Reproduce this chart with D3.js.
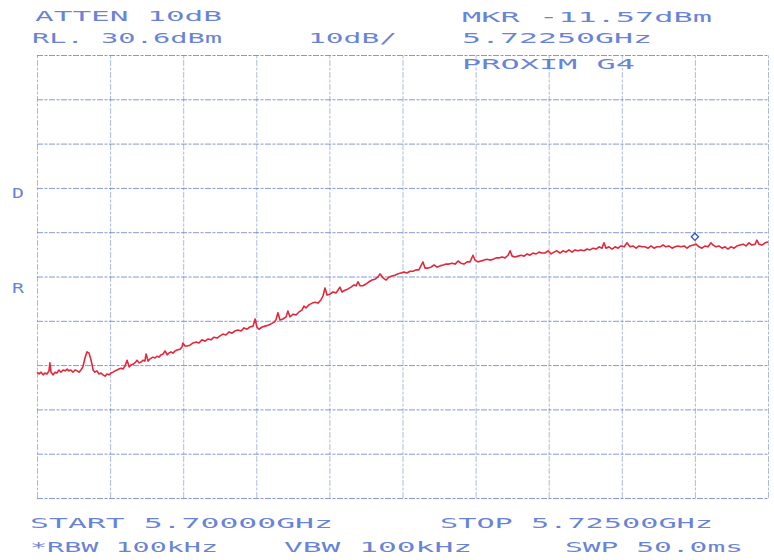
<!DOCTYPE html>
<html>
<head>
<meta charset="utf-8">
<script src="https://cdn.jsdelivr.net/npm/d3@7"></script>
<style>
  html, body { margin: 0; padding: 0; background: #ffffff; }
  svg { display: block; }
</style>
</head>
<body>
<div id="chart"></div>
<script>
// ---------------- data ----------------
const startMHz = 5700.0;
const stopMHz = 5725.0;
const refLevelDbm = 30.6;
const dbPerDiv = 10;
const numDivs = 10;

// grid (major division) values
const gridFreqsMHz = [5700, 5702.5, 5705, 5707.5, 5710, 5712.5, 5715, 5717.5, 5720, 5722.5, 5725];
const gridLevelsDbm = [30.6, 20.6, 10.6, 0.6, -9.4, -19.4, -29.4, -39.4, -49.4, -59.4, -69.4];

// marker
const markerFreqMHz = 5722.5;
const markerLevelDbm = -11.57;

// trace: frequency (MHz) and level (dBm)
const traceFreqMHz = [
5700.00,5700.07,5700.14,5700.21,5700.27,5700.34,5700.41,5700.44,5700.48,5700.55,
5700.62,5700.68,5700.75,5700.82,5700.89,5700.96,5701.03,5701.09,5701.16,5701.23,
5701.30,5701.37,5701.44,5701.50,5701.57,5701.64,5701.71,5701.78,5701.85,5701.92,
5701.98,5702.05,5702.12,5702.19,5702.26,5702.33,5702.39,5702.46,5702.53,5702.60,
5702.67,5702.74,5702.80,5702.87,5702.94,5703.01,5703.08,5703.15,5703.21,5703.28,
5703.35,5703.42,5703.49,5703.56,5703.63,5703.69,5703.73,5703.80,5703.86,5703.97,
5704.04,5704.10,5704.17,5704.24,5704.31,5704.38,5704.45,5704.51,5704.58,5704.65,
5704.72,5704.79,5704.89,5704.96,5704.99,5705.06,5705.13,5705.23,5705.34,5705.44,
5705.54,5705.64,5705.75,5705.85,5705.95,5706.05,5706.16,5706.26,5706.36,5706.46,
5706.57,5706.67,5706.77,5706.87,5706.98,5707.08,5707.18,5707.28,5707.39,5707.46,
5707.52,5707.59,5707.70,5707.80,5707.90,5708.00,5708.11,5708.17,5708.24,5708.31,
5708.41,5708.52,5708.58,5708.65,5708.76,5708.86,5708.96,5709.06,5709.13,5709.20,
5709.30,5709.41,5709.51,5709.61,5709.71,5709.78,5709.85,5709.92,5710.02,5710.12,
5710.23,5710.29,5710.36,5710.43,5710.53,5710.64,5710.74,5710.84,5710.91,5710.98,
5711.05,5711.15,5711.25,5711.35,5711.46,5711.56,5711.66,5711.73,5711.83,5711.94,
5712.04,5712.14,5712.24,5712.35,5712.45,5712.55,5712.65,5712.76,5712.86,5712.96,
5713.06,5713.13,5713.20,5713.27,5713.37,5713.47,5713.58,5713.68,5713.78,5713.89,
5713.99,5714.09,5714.19,5714.30,5714.40,5714.50,5714.60,5714.71,5714.81,5714.91,
5714.98,5715.08,5715.18,5715.29,5715.39,5715.49,5715.60,5715.70,5715.80,5715.90,
5716.01,5716.11,5716.18,5716.25,5716.35,5716.45,5716.55,5716.66,5716.76,5716.86,
5716.96,5717.07,5717.17,5717.27,5717.37,5717.48,5717.58,5717.68,5717.78,5717.89,
5717.99,5718.09,5718.19,5718.30,5718.40,5718.50,5718.60,5718.71,5718.81,5718.91,
5719.02,5719.12,5719.22,5719.32,5719.39,5719.46,5719.56,5719.67,5719.77,5719.87,
5719.97,5720.08,5720.18,5720.28,5720.38,5720.49,5720.59,5720.69,5720.79,5720.90,
5721.00,5721.10,5721.20,5721.31,5721.41,5721.51,5721.61,5721.72,5721.82,5721.92,
5722.02,5722.13,5722.23,5722.33,5722.44,5722.54,5722.64,5722.74,5722.85,5722.95,
5723.05,5723.12,5723.22,5723.32,5723.43,5723.53,5723.63,5723.73,5723.84,5723.94,
5724.04,5724.15,5724.25,5724.35,5724.45,5724.56,5724.62,5724.69,5724.80,5724.90,
5725.00
];
const traceLevelDbm = [
-41.0,-41.4,-41.0,-41.6,-41.2,-41.4,-40.7,-38.9,-41.0,-41.6,
-41.0,-41.2,-40.5,-41.0,-40.5,-40.7,-40.3,-40.7,-40.5,-41.0,
-40.5,-40.7,-41.0,-40.5,-39.8,-37.8,-36.4,-36.7,-38.3,-40.5,
-41.0,-40.7,-41.4,-41.2,-41.6,-41.9,-41.4,-41.6,-41.2,-41.0,
-40.7,-40.5,-40.3,-40.1,-40.3,-39.6,-38.3,-39.8,-39.4,-39.2,
-38.9,-38.3,-38.9,-38.7,-38.3,-38.5,-36.9,-38.5,-38.0,-37.6,
-37.8,-37.4,-37.6,-37.1,-36.9,-36.2,-37.1,-36.7,-36.4,-36.7,
-36.2,-36.0,-35.8,-35.3,-34.4,-35.1,-35.1,-34.9,-34.4,-34.2,
-34.4,-33.7,-34.0,-33.5,-33.7,-33.1,-33.3,-32.8,-32.4,-32.6,
-31.9,-32.2,-31.7,-31.5,-31.7,-31.0,-31.3,-30.8,-30.6,-29.0,
-30.8,-31.3,-30.8,-30.6,-30.4,-30.1,-29.7,-29.2,-27.6,-29.2,
-29.0,-28.5,-27.2,-28.5,-27.9,-28.1,-27.4,-27.0,-26.1,-26.5,
-25.8,-25.4,-25.2,-25.4,-24.7,-23.8,-22.0,-23.6,-23.4,-22.9,
-23.1,-22.5,-21.8,-22.9,-22.5,-22.2,-21.8,-21.3,-21.5,-20.6,
-21.5,-21.5,-21.1,-20.6,-20.2,-20.0,-19.5,-18.8,-19.7,-20.2,
-19.5,-19.3,-19.1,-18.8,-18.6,-18.4,-18.6,-18.2,-18.2,-17.9,
-17.9,-17.0,-16.1,-17.5,-17.5,-17.3,-16.8,-17.3,-17.0,-16.8,
-16.6,-16.6,-16.4,-16.6,-15.9,-16.4,-16.6,-16.1,-16.1,-14.6,
-15.7,-16.1,-15.9,-15.7,-15.5,-15.7,-15.5,-15.2,-15.2,-15.0,
-15.2,-14.6,-13.6,-14.8,-15.0,-14.8,-14.6,-14.8,-14.3,-14.6,
-14.1,-14.3,-13.9,-14.1,-14.1,-13.6,-14.3,-13.9,-13.6,-14.1,
-13.6,-13.9,-13.4,-13.9,-13.4,-13.6,-13.4,-13.6,-13.2,-13.4,
-13.0,-13.2,-12.7,-13.0,-11.8,-13.0,-12.7,-13.2,-12.7,-13.0,
-12.5,-12.7,-11.8,-12.7,-12.5,-13.0,-12.5,-12.7,-12.7,-13.0,
-12.5,-13.0,-12.7,-12.7,-12.3,-12.7,-12.5,-13.0,-12.7,-12.5,
-12.7,-12.5,-13.0,-12.5,-12.3,-12.1,-12.7,-13.0,-12.5,-12.7,
-11.8,-12.3,-12.7,-12.5,-13.0,-12.7,-13.2,-12.7,-13.0,-12.5,
-12.3,-12.1,-12.5,-11.8,-12.3,-12.1,-11.2,-12.1,-12.3,-11.8,
-11.6
];

// annotation texts
const attenText = "ATTEN 10dB";
const refText = "RL. 30.6dBm";
const scaleText = "10dB/";
const markerText = "MKR -11.57dBm";
const markerFreqText = "5.72250GHz";
const titleText = "PROXIM G4";
const startText = "START 5.70000GHz";
const stopText = "STOP 5.72500GHz";
const rbwText = "*RBW 100kHz";
const vbwText = "VBW 100kHz";
const swpText = "SWP 50.0ms";
const sideTexts = ["D", "R"];

// ---------------- drawing ----------------
const W = 774, H = 560;
const plot = { left: 37, right: 768, top: 55, bottom: 498 };
const textBlue = "#4d6dd0";
const gridBlue = "#5a78c8";
const red = "#e2283a";

const svg = d3.select("#chart").append("svg")
  .attr("width", W).attr("height", H)
  .style("background", "#ffffff");

const x = d3.scaleLinear().domain([startMHz, stopMHz]).range([plot.left, plot.right]);
const y = d3.scaleLinear()
  .domain([refLevelDbm - dbPerDiv * numDivs, refLevelDbm])
  .range([plot.bottom, plot.top]);

// grid using axes
const gGridX = svg.append("g")
  .attr("transform", `translate(0,${plot.bottom})`)
  .call(d3.axisBottom(x).tickValues(gridFreqsMHz)
    .tickSize(-(plot.bottom - plot.top)).tickFormat(""));
const gGridY = svg.append("g")
  .attr("transform", `translate(${plot.left},0)`)
  .call(d3.axisLeft(y).tickValues(gridLevelsDbm)
    .tickSize(-(plot.right - plot.left)).tickFormat(""));
[gGridX, gGridY].forEach(g => {
  g.select(".domain").remove();
  g.selectAll(".tick line")
    .attr("stroke", gridBlue)
    .attr("stroke-width", 1)
    .attr("stroke-opacity", 0.75)
    .attr("stroke-dasharray", "6 1.5 3 1.5");
});
gGridX.selectAll(".tick line").attr("stroke-opacity", 0.5);

// trace
const line = d3.line()
  .x((d, i) => x(traceFreqMHz[i]))
  .y(d => y(d));
svg.append("path")
  .datum(traceLevelDbm)
  .attr("fill", "none")
  .attr("stroke", red)
  .attr("stroke-width", 1.6)
  .attr("stroke-linejoin", "round")
  .attr("d", line);

// marker diamond
svg.append("path")
  .attr("d", d3.symbol().type(d3.symbolSquare).size(26)())
  .attr("transform", `translate(${x(markerFreqMHz)},${y(markerLevelDbm) - 5}) rotate(45)`)
  .attr("fill", "#ffffff")
  .attr("stroke", "#2f55c0")
  .attr("stroke-width", 1.3);

// texts (stretched plotter-like lettering)
const layout = [
  { t: attenText, x0: 35, x1: 222, base: 21 },
  { t: refText, x0: 32, x1: 222, base: 43 },
  { t: scaleText, x0: 308, x1: 397, base: 43 },
  { t: markerText, x0: 462, x1: 712, base: 22 },
  { t: markerFreqText, x0: 462, x1: 652, base: 43 },
  { t: titleText, x0: 462, x1: 635, base: 69 },
  { t: startText, x0: 30, x1: 333, base: 528 },
  { t: stopText, x0: 440, x1: 713, base: 528 },
  { t: rbwText, x0: 30, x1: 218, base: 552 },
  { t: vbwText, x0: 284, x1: 472, base: 552 },
  { t: swpText, x0: 565, x1: 743, base: 552 },
  { t: sideTexts[0], x0: 12, x1: 24, base: 198 },
  { t: sideTexts[1], x0: 12, x1: 24, base: 293 }
];
svg.append("g").selectAll("text")
  .data(layout)
  .join("text")
  .attr("x", d => d.x0)
  .attr("y", d => d.base)
  .attr("textLength", d => d.x1 - d.x0)
  .attr("lengthAdjust", "spacingAndGlyphs")
  .attr("font-family", "'DejaVu Sans Mono', monospace")
  .attr("font-size", 14)
  .attr("fill", textBlue)
  .attr("fill-opacity", 0.85)
  .text(d => d.t);
</script>
</body>
</html>
